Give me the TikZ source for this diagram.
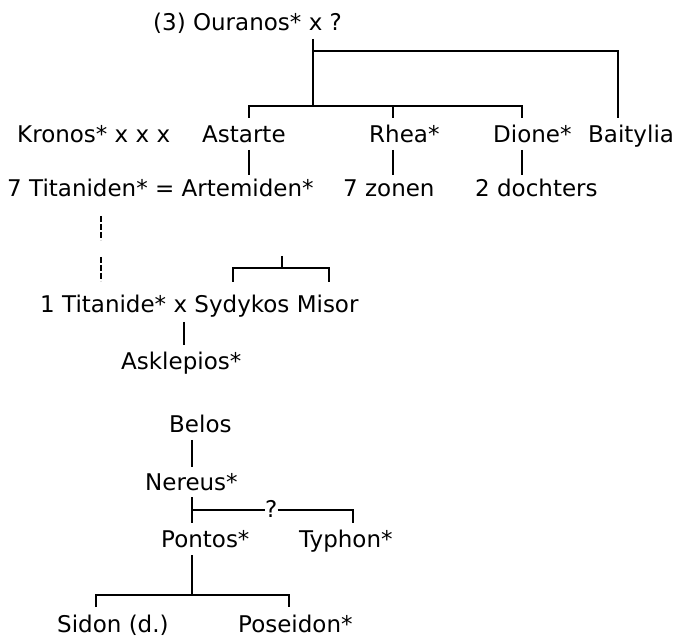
\documentclass[tikz,border=0pt]{standalone}
\usepackage{fontspec}
\setmainfont{DejaVu Sans}
\begin{document}
\begin{tikzpicture}[x=1pt,y=-1pt,
  lbl/.style={anchor=base west,inner sep=0pt,font=\fontsize{23}{28}\selectfont},
  link/.style={line width=1.6pt,line cap=butt,line join=miter},
  dlink/.style={link,dash pattern=on 6pt off 2pt}]
\useasboundingbox (0,0) rectangle (678,636);
% text nodes
\node[lbl] (ouranos) at (153,31) {(3) Ouranos* x ?};
\node[lbl] (kronos) at (17,143) {Kronos* x x x};
\node[lbl] (astarte) at (202,143) {Astarte};
\node[lbl] (rhea) at (369,143) {Rhea*};
\node[lbl] (dione) at (493,143) {Dione*};
\node[lbl] (baitylia) at (588,143) {Baitylia};
\node[lbl] (titaniden) at (7,197) {7 Titaniden* = Artemiden*};
\node[lbl] (zonen) at (343,197) {7 zonen};
\node[lbl] (dochters) at (475,197) {2 dochters};
\node[lbl] (titanide) at (40,313) {1 Titanide* x Sydykos Misor};
\node[lbl] (asklepios) at (121,370) {Asklepios*};
\node[lbl] (belos) at (169,433) {Belos};
\node[lbl] (nereus) at (145,490) {Nereus*};
\node[lbl] (pontos) at (161,547) {Pontos*};
\node[lbl] (typhon) at (299,547) {Typhon*};
\node[lbl] (q) at (265,517) {?};
\node[lbl] (sidon) at (57,632) {Sidon (d.)};
\node[lbl] (poseidon) at (238,632) {Poseidon*};
% connector points
\coordinate (o1) at (313,39);
\coordinate (o2) at (313,106);
\coordinate (bt1) at (618,51);
\coordinate (bt2) at (618,118);
\coordinate (h1) at (249,106);
\coordinate (h2) at (522,106);
\coordinate (astT) at (249,118);
\coordinate (rheaT) at (393,118);
\coordinate (dioT) at (522,118);
% Ouranos
\draw[link] (o1) -- (o2);
\draw[link] (313,51) -- (bt1) -- (bt2);
\draw[link] (astT) -- (h1) -- (h2) -- (dioT);
\draw[link] (393,106) -- (rheaT);
% row 1 -> row 2
\draw[link] (249,150) -- (249,175);
\draw[link] (393,150) -- (393,175);
\draw[link] (522,150) -- (522,175);
% dashed Titaniden -> Titanide
\draw[dlink] (101,216) -- (101,240);
\draw[dlink] (101,257) -- (101,281);
% bracket over Sydykos Misor
\draw[link] (282,256) -- (282,268);
\draw[link] (233,282) -- (233,268) -- (329,268) -- (329,282);
% Asklepios
\draw[link] (184,322) -- (184,345);
% Belos -> Nereus
\draw[link] (192,440) -- (192,467);
% Nereus -> Pontos, Typhon
\draw[link] (192,497) -- (192,523);
\draw[link] (192,510) -- (q.west |- 0,510);
\draw[link] (q.east |- 0,510) -- (353,510) -- (353,523);
% Pontos -> Sidon, Poseidon
\draw[link] (192,555) -- (192,595);
\draw[link] (96,607) -- (96,595) -- (289,595) -- (289,607);
\end{tikzpicture}
\end{document}
